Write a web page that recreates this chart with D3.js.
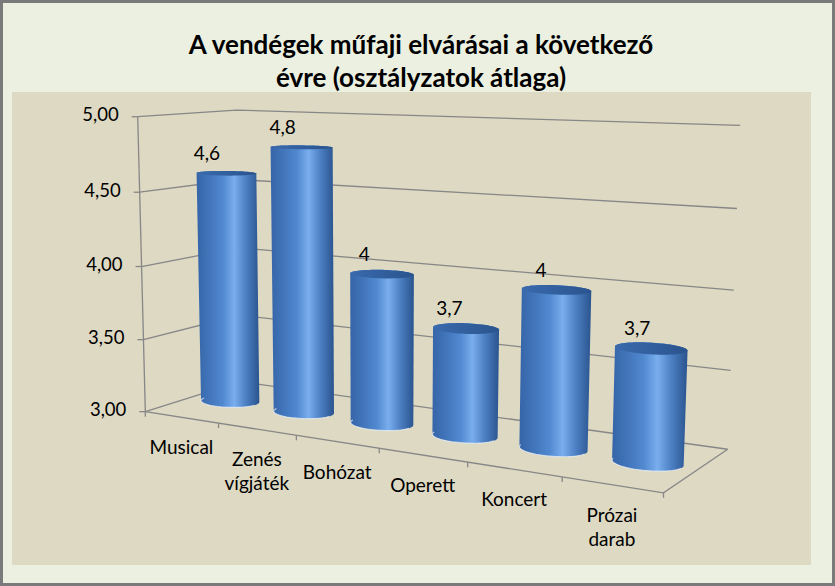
<!DOCTYPE html>
<html>
<head>
<meta charset="utf-8">
<script src="https://cdn.jsdelivr.net/npm/d3@7"></script>
<style>
  body { margin: 0; background: #fff; }
  svg text { font-family: Lato, "Open Sans", sans-serif; }
</style>
</head>
<body>
<div id="chart"></div>
<script>
// data
const categories = ["Musical", "Zenés vígjáték", "Bohózat", "Operett", "Koncert", "Prózai darab"];
const values = [4.6, 4.8, 4, 3.7, 4, 3.7];
const yTicks = [3, 3.5, 4, 4.5, 5];
const titleLines = ["A vendégek műfaji elvárásai a következő", "évre (osztályzatok átlaga)"];

// screen positions of the 3d box (category index, value 0..1, depth 0..1 -> px), used to fit the camera
const boxCorners = [
  [0, 0, 0, 147, 410], [1, 0, 0, 219, 422], [2, 0, 0, 297, 435], [3, 0, 0, 380, 448],
  [4, 0, 0, 467, 463], [5, 0, 0, 562, 479], [6, 0, 0, 663, 494],
  [0, 1, 0, 137, 117], [0, 0.5, 0, 140, 266],
  [0, 1, 1, 238, 110], [0, 0.5, 1, 238, 248], [0, 0, 1, 239, 384],
  [6, 1, 1, 740, 126], [6, 0.5, 1, 734, 289], [6, 0, 1, 728, 447]
];

const width = 835, height = 586;

// least squares fit of a 3x4 projective camera (DLT)
function fitCamera(pts) {
  const n = 11;
  const M = Array.from({length: n}, () => new Array(n).fill(0));
  const r = new Array(n).fill(0);
  pts.forEach(([X, Y, Z, u, v]) => {
    u /= 100; v /= 100;
    const rows = [
      [X, Y, Z, 1, 0, 0, 0, 0, -u * X, -u * Y, -u * Z, u],
      [0, 0, 0, 0, X, Y, Z, 1, -v * X, -v * Y, -v * Z, v]
    ];
    rows.forEach(row => {
      for (let i = 0; i < n; i++) {
        r[i] += row[i] * row[n];
        for (let j = 0; j < n; j++) M[i][j] += row[i] * row[j];
      }
    });
  });
  for (let c = 0; c < n; c++) {
    let piv = c;
    for (let i = c + 1; i < n; i++) if (Math.abs(M[i][c]) > Math.abs(M[piv][c])) piv = i;
    [M[c], M[piv]] = [M[piv], M[c]];
    [r[c], r[piv]] = [r[piv], r[c]];
    for (let i = 0; i < n; i++) {
      if (i === c) continue;
      const f = M[i][c] / M[c][c];
      for (let j = c; j < n; j++) M[i][j] -= f * M[c][j];
      r[i] -= f * r[c];
    }
  }
  const p = r.map((v, i) => v / M[i][i]);
  return (X, Y, Z) => {
    const w = p[8] * X + p[9] * Y + p[10] * Z + 1;
    return [100 * (p[0] * X + p[1] * Y + p[2] * Z + p[3]) / w,
            100 * (p[4] * X + p[5] * Y + p[6] * Z + p[7]) / w];
  };
}
const proj = fitCamera(boxCorners);

const xScale = d3.scaleBand().domain(categories).range([0, categories.length]).padding(0);
const yScale = d3.scaleLinear().domain([3, 5]).range([0, 1]);
const P = (cat, v, z) => proj(typeof cat === "number" ? cat : xScale(cat), yScale(v), z);

const hu = d3.formatLocale({decimal: ",", thousands: " ", grouping: [3], currency: ["", " Ft"]});
const fmtTick = hu.format(".2f");
const fmtVal = hu.format("~g");

const svg = d3.select("#chart").append("svg")
  .attr("width", width).attr("height", height);

const defs = svg.append("defs");
const bodyGrad = defs.append("linearGradient").attr("id", "cylBody").attr("x1", 0).attr("x2", 1);
[[0, "#3665a8"], [0.18, "#4073b8"], [0.42, "#5189d0"], [0.6, "#79aeee"], [0.78, "#4d80c4"], [1, "#2a548e"]]
  .forEach(([o, c]) => bodyGrad.append("stop").attr("offset", o).attr("stop-color", c));
const topGrad = defs.append("linearGradient").attr("id", "cylTop").attr("x1", 0).attr("x2", 1);
[[0, "#3a6aad"], [1, "#2a548e"]]
  .forEach(([o, c]) => topGrad.append("stop").attr("offset", o).attr("stop-color", c));

// backgrounds
svg.append("rect").attr("x", 1.5).attr("y", 1.5).attr("width", width - 3).attr("height", height - 3)
  .attr("fill", "#ecf0e1").attr("stroke", "#7a7a7a").attr("stroke-width", 3);
svg.append("rect").attr("x", 12).attr("y", 92).attr("width", 799).attr("height", 473)
  .attr("fill", "#ddd9c3");

// title
svg.append("text").attr("text-anchor", "middle")
  .style("font-size", "26px").style("font-weight", "bold").attr("fill", "#000")
  .selectAll("tspan").data(titleLines).join("tspan")
  .attr("x", 421).attr("y", (d, i) => 54 + i * 33)
  .text(d => d);

const line = d3.line();
const last = categories.length;
const gridColor = "#878787";

// gridlines: side wall then back wall
svg.append("g").selectAll("path").data(yTicks).join("path")
  .attr("d", v => line([P(0, v, 0), P(0, v, 1), P(last, v, 1)]))
  .attr("fill", "none").attr("stroke", gridColor).attr("stroke-width", 1.3);

// floor front and right edge
svg.append("path")
  .attr("d", line([P(0, 3, 0), P(last, 3, 0), P(last, 3, 1)]))
  .attr("fill", "none").attr("stroke", gridColor).attr("stroke-width", 1.3);

// y axis
const gY = svg.append("g");
gY.append("path").attr("d", line([P(0, 3, 0), P(0, 5, 0)]))
  .attr("stroke", gridColor).attr("stroke-width", 1.3);
gY.selectAll("line").data(yTicks).join("line")
  .attr("x1", v => P(0, v, 0)[0] - 6).attr("x2", v => P(0, v, 0)[0])
  .attr("y1", v => P(0, v, 0)[1]).attr("y2", v => P(0, v, 0)[1])
  .attr("stroke", gridColor).attr("stroke-width", 1.3);
gY.selectAll("text").data(yTicks).join("text")
  .attr("x", v => P(0, v, 0)[0] - 19).attr("y", v => P(0, v, 0)[1])
  .attr("text-anchor", "end").attr("dominant-baseline", "middle")
  .style("font-size", "18.5px").attr("fill", "#000").text(fmtTick);

// category ticks and labels
const gX = svg.append("g");
gX.selectAll("line").data(d3.range(last + 1)).join("line")
  .attr("x1", i => P(i, 3, 0)[0]).attr("x2", i => P(i, 3, 0)[0])
  .attr("y1", i => P(i, 3, 0)[1]).attr("y2", i => P(i, 3, 0)[1] + 5)
  .attr("stroke", gridColor).attr("stroke-width", 1.3);
gX.selectAll("text").data(categories).join("text")
  .attr("text-anchor", "middle").style("font-size", "19px").attr("fill", "#000")
  .each(function (d) {
    const [cx, cy] = P(xScale(d) + 0.5, 3, 0);
    d3.select(this).selectAll("tspan").data(d.split(" ")).join("tspan")
      .attr("x", cx).attr("y", (w, i) => cy + 37 + i * 24).text(w => w);
  });

// cylinders
const rx = 0.35, rz = 0.16, steps = 72;
const circle = (cat, v) => d3.range(steps).map(k => {
  const a = 2 * Math.PI * k / steps;
  return proj(xScale(cat) + 0.5 + rx * Math.cos(a), yScale(v), 0.5 + rz * Math.sin(a));
});

const bars = svg.append("g").selectAll("g").data(categories).join("g");
bars.append("path")
  .attr("d", (d, i) => "M" + d3.polygonHull(circle(d, 3).concat(circle(d, values[i]))).join("L") + "Z")
  .attr("fill", "url(#cylBody)");
bars.append("path")
  .attr("d", d => line(circle(d, 3).filter((p, k) => Math.sin(2 * Math.PI * k / steps) < 0)))
  .attr("fill", "none").attr("stroke", "#eef2f6").attr("stroke-width", 1.2).attr("opacity", 0.7);
bars.append("path")
  .attr("d", (d, i) => "M" + circle(d, values[i]).join("L") + "Z")
  .attr("fill", "url(#cylTop)");

// value labels
bars.append("text")
  .attr("x", (d, i) => P(xScale(d) + 0.5, values[i], 0.3)[0])
  .attr("y", (d, i) => P(xScale(d) + 0.5, values[i], 0.5)[1] - 13)
  .attr("text-anchor", "middle").style("font-size", "19px").attr("fill", "#000")
  .text((d, i) => fmtVal(values[i]));
</script>
</body>
</html>
